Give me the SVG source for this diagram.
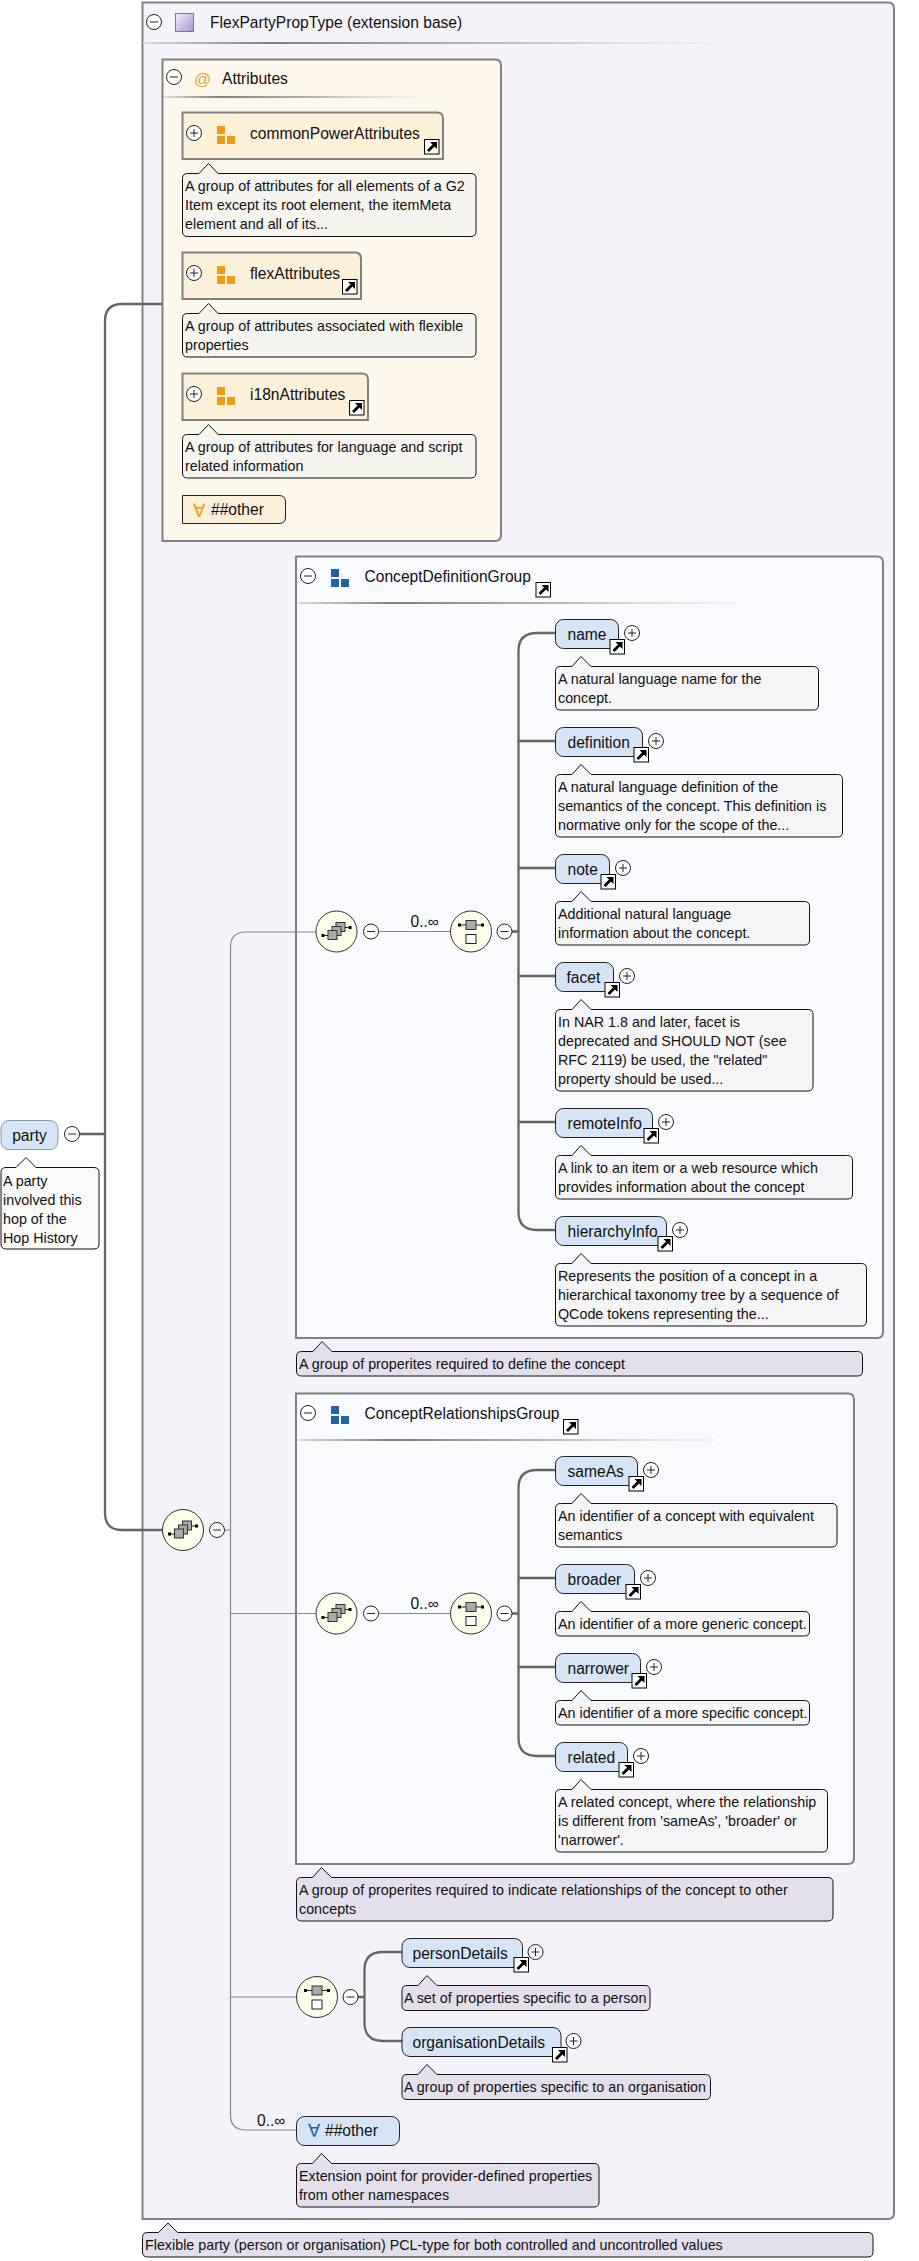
<svg xmlns="http://www.w3.org/2000/svg" xmlns:xlink="http://www.w3.org/1999/xlink" width="919" height="2261" viewBox="0 0 919 2261">
<style>
text{font-family:"Liberation Sans",Arial,sans-serif;fill:#111}
.t{font-size:15.6px}
.n{font-size:14.3px}
.box{stroke:#808080;stroke-width:2}
.el{fill:#d6e4f7;stroke:#222;stroke-width:1}
.ag{fill:#fdf0d8;stroke:#808080;stroke-width:2}
.note1{fill:#f5f5f7;stroke:#111;stroke-width:1}
.note2{fill:#f6f4ef;stroke:#111;stroke-width:1}
.note3{fill:#e3dfed;stroke:#111;stroke-width:1}
.thick{fill:none;stroke:#666;stroke-width:2.3}
.thin{fill:none;stroke:#888;stroke-width:1.2}
.fa{font-family:"DejaVu Sans ExtraLight","DejaVu Sans",sans-serif;font-size:18px}
.sq{fill:#aaa;stroke:#333;stroke-width:1}
.wh{fill:#fff;stroke:#222;stroke-width:1}
.bb{fill:#000}
.blue{fill:#1f63ab}
.or{fill:#ee9c12}
</style>
<defs>
<linearGradient id="sep" x1="0" x2="1" y1="0" y2="0"><stop offset="0" stop-color="#dcdcdc"/><stop offset=".22" stop-color="#808080"/><stop offset=".6" stop-color="#b8b8b8"/><stop offset="1" stop-color="#ececec" stop-opacity=".5"/></linearGradient>
<linearGradient id="pur" x1="0" x2="1" y1="0" y2="1"><stop offset="0" stop-color="#f0eef8"/><stop offset="1" stop-color="#a898d0"/></linearGradient>
<g id="minus"><circle r="7.5" fill="#fff" stroke="#222" stroke-width="1"/><path d="M-4 0H4" stroke="#222" stroke-width="1"/></g>
<g id="plus"><circle r="7.5" fill="#fff" stroke="#222" stroke-width="1"/><path d="M-4 0H4M0-4V4" stroke="#222" stroke-width="1"/></g>
<g id="ext"><rect x=".5" y=".5" width="14.5" height="14.5" fill="#fff" stroke="#000" stroke-width="1"/><path class="bb" d="M6 3H13V10L10.500 7.500 5 13 3 11 8.500 5.500Z"/></g>
<g id="choice"><circle r="20.5" fill="#fdfce8" stroke="#333" stroke-width="1"/><rect class="bb" x="-15" y="2.5" width="3" height="3"/><path d="M-12 4H-8.500" stroke="#222"/><rect class="bb" x="12" y="-5.500" width="3" height="3"/><path d="M8.500-4H12" stroke="#222"/><rect class="sq" x="-.5" y="-9" width="9" height="9"/><rect class="sq" x="-4.500" y="-5" width="9" height="9"/><rect class="sq" x="-8.500" y="-1" width="9" height="9"/></g>
<g id="seq"><circle r="20.500" fill="#fdfce8" stroke="#333" stroke-width="1"/><path d="M-11-6.500H11" stroke="#222"/><rect class="bb" x="-13" y="-8" width="3" height="3"/><rect class="bb" x="10" y="-8" width="3" height="3"/><rect class="sq" x="-5" y="-11" width="10" height="9"/><rect class="wh" x="-5" y="3" width="10" height="9"/></g>
<g id="attricon"><rect class="or" x="0" y="0" width="8" height="8"/><rect class="or" x="0" y="10" width="8" height="8"/><rect class="or" x="10" y="10" width="8" height="8"/></g>
<g id="grpicon"><rect class="blue" x="0" y="0" width="8" height="8"/><rect class="blue" x="0" y="10" width="8" height="8"/><rect class="blue" x="10" y="10" width="8" height="8"/></g>
</defs>

<rect width="919" height="2261" fill="#fff"/>

<g id="FlexPartyPropType">
<path class="box" fill="#f5f3fa" d="M142.500 2.500H888Q894 2.500 894 8.500V2213Q894 2219 888 2219H142.500Z"/>
<use xlink:href="#minus" href="#minus" x="154" y="22"/>
<rect x="175.500" y="13.500" width="18" height="18" fill="url(#pur)" stroke="#8070b0"/>
<text class="t" x="210" y="28">FlexPartyPropType (extension base)</text>
<rect x="143" y="42" width="572" height="2" fill="url(#sep)"/>
<path class="note3" d="M147.500 2232.500H158.500L168 2223 177.500 2232.500H868Q873 2232.500 873 2237.500V2252Q873 2257 868 2257H147.500Q142.500 2257 142.500 2252V2237.500Q142.500 2232.500 147.500 2232.500Z"/>
<text class="n" x="145" y="2250">Flexible party (person or organisation) PCL-type for both controlled and uncontrolled values</text>
</g>

<g id="Attributes">
<path class="box" fill="#fef8ec" d="M162.500 59.500H495Q501 59.500 501 65.500V535Q501 541 495 541H162.500Z"/>
<use xlink:href="#minus" href="#minus" x="174" y="77"/>
<text x="194" y="85" style="font-size:17px;fill:#eca52a">@</text>
<text class="t" x="222" y="84">Attributes</text>
<rect x="164" y="96" width="254" height="2" fill="url(#sep)"/>
</g>
<g id="ConceptDefinitionGroup">
<path class="box" fill="#f9fafe" d="M296 556.500H877Q883 556.500 883 562.500V1332Q883 1338 877 1338H296Z"/>
<use xlink:href="#minus" href="#minus" x="308" y="576"/><use xlink:href="#grpicon" href="#grpicon" x="331" y="569"/>
<text class="t" x="364.500" y="582">ConceptDefinitionGroup</text>
<use xlink:href="#ext" href="#ext" x="535.500" y="582"/>
<rect x="298" y="602" width="438" height="2" fill="url(#sep)"/>
</g>
<g id="ConceptRelationshipsGroup">
<path class="box" fill="#f9fafe" d="M296 1393.500H848Q854 1393.500 854 1399.500V1858Q854 1864 848 1864H296Z"/>
<use xlink:href="#minus" href="#minus" x="308" y="1413"/><use xlink:href="#grpicon" href="#grpicon" x="331" y="1406"/>
<text class="t" x="364.500" y="1419">ConceptRelationshipsGroup</text>
<use xlink:href="#ext" href="#ext" x="563" y="1419"/>
<rect x="298" y="1439" width="418" height="2" fill="url(#sep)"/>
</g>

<g id="connectors">
<path class="thick" d="M80 1134H105M162 304H122Q105 304 105 321V1513Q105 1530 122 1530H163"/>
<path class="thin" d="M225 1530H230.500M316 932H246Q230.500 932 230.500 947V2115Q230.500 2130 246 2130H297M230.500 1613.500H316M230.500 1997H297M378 931.500H451M378 1613.500H451"/>
<path class="thick" d="M512 931.500H518.500M555.500 633H537Q518.500 633 518.500 651V1212Q518.500 1230 537 1230H555.500M518.500 741H555.500M518.500 868H555.500M518.500 976H555.500M518.500 1122H555.500"/>
<path class="thick" d="M512 1613.500H518.500M555.500 1470H537Q518.500 1470 518.500 1488V1738Q518.500 1756 537 1756H555.500M518.500 1578H555.500M518.500 1667H555.500"/>
<path class="thick" d="M358 1997H364.500M402 1952H383Q364.500 1952 364.500 1970V2023Q364.500 2041 383 2041H402"/>
</g>

<g id="party">
<rect x="1" y="1120.500" width="57" height="29" rx="8" fill="#d6e4f7" stroke="#8a98a8"/>
<text class="t" x="29.500" y="1141" text-anchor="middle">party</text>
<use xlink:href="#minus" href="#minus" x="72" y="1134"/>
<path d="M6 1167.500H16L26 1157.500 36 1167.500H94Q99 1167.500 99 1172.500V1244Q99 1249 94 1249H6Q1 1249 1 1244V1172.500Q1 1167.500 6 1167.500Z" fill="#f9f9f9" stroke="#111"/>
<text class="n" x="3" y="1186">A party</text><text class="n" x="3" y="1205">involved this</text><text class="n" x="3" y="1224">hop of the</text><text class="n" x="3" y="1243">Hop History</text>
</g>

<g id="commonPowerAttributes">
<path class="ag" d="M182.500 112.500H437Q443 112.500 443 118.500V159H182.500Z"/>
<use xlink:href="#plus" href="#plus" x="194" y="133"/><use xlink:href="#attricon" href="#attricon" x="217" y="126"/>
<text class="t" x="250" y="139">commonPowerAttributes</text>
<use xlink:href="#ext" href="#ext" x="424" y="139"/>
<path class="note2" d="M187.500 173.500H199L208.500 163.500 218 173.500H471Q476 173.500 476 178.500V231.500Q476 236.500 471 236.500H187.500Q182.500 236.500 182.500 231.500V178.500Q182.500 173.500 187.500 173.500Z"/>
<text class="n" x="185" y="191">A group of attributes for all elements of a G2</text><text class="n" x="185" y="210">Item except its root element, the itemMeta</text><text class="n" x="185" y="229">element and all of its...</text>
</g>
<g id="flexAttributes">
<path class="ag" d="M182.500 252.500H355Q361 252.500 361 258.500V299H182.500Z"/>
<use xlink:href="#plus" href="#plus" x="194" y="273"/><use xlink:href="#attricon" href="#attricon" x="217" y="266"/>
<text class="t" x="250" y="279">flexAttributes</text>
<use xlink:href="#ext" href="#ext" x="342" y="279"/>
<path class="note2" d="M187.500 313.500H199L208.500 303.500 218 313.500H471Q476 313.500 476 318.500V352Q476 357 471 357H187.500Q182.500 357 182.500 352V318.500Q182.500 313.500 187.500 313.500Z"/>
<text class="n" x="185" y="331">A group of attributes associated with flexible</text><text class="n" x="185" y="350">properties</text>
</g>
<g id="i18nAttributes">
<path class="ag" d="M182.500 373.500H362Q368 373.500 368 379.500V420H182.500Z"/>
<use xlink:href="#plus" href="#plus" x="194" y="394"/><use xlink:href="#attricon" href="#attricon" x="217" y="387"/>
<text class="t" x="250" y="400">i18nAttributes</text>
<use xlink:href="#ext" href="#ext" x="349" y="400"/>
<path class="note2" d="M187.500 434.500H199L208.500 424.500 218 434.500H471Q476 434.500 476 439.500V473Q476 478 471 478H187.500Q182.500 478 182.500 473V439.500Q182.500 434.500 187.500 434.500Z"/>
<text class="n" x="185" y="452">A group of attributes for language and script</text><text class="n" x="185" y="471">related information</text>
</g>
<g id="anyAttr">
<path d="M182.500 495.500H279Q285.500 495.500 285.500 502V517Q285.500 523.500 279 523.500H182.500Z" fill="#fdf0d8" stroke="#222"/>
<text class="fa" x="193" y="517" style="fill:#ee9c12">∀</text>
<text class="t" x="211" y="515">##other</text>
</g>

<g id="cdgControls">
<use xlink:href="#choice" href="#choice" x="336.500" y="931.500"/><use xlink:href="#minus" href="#minus" x="371" y="931.500"/>
<text class="t" x="410.500" y="927">0..∞</text>
<use xlink:href="#seq" href="#seq" x="471" y="931.500"/><use xlink:href="#minus" href="#minus" x="504.500" y="931.500"/>
</g>
<g id="name">
<rect class="el" x="555.500" y="619.500" width="63" height="29" rx="8"/><text class="t" x="567.500" y="639.500">name</text>
<use xlink:href="#ext" href="#ext" x="609.500" y="639"/><use xlink:href="#plus" href="#plus" x="632" y="633"/>
<path class="note1" d="M560.500 666.500H572L581 656.500 591 666.500H813.500Q818.500 666.500 818.500 671.500V705Q818.500 710 813.500 710H560.500Q555.500 710 555.500 705V671.500Q555.500 666.500 560.500 666.500Z"/>
<text class="n" x="558" y="684">A natural language name for the</text><text class="n" x="558" y="703">concept.</text>
</g>
<g id="definition">
<rect class="el" x="555.500" y="727.500" width="87" height="29" rx="8"/><text class="t" x="567.500" y="747.500">definition</text>
<use xlink:href="#ext" href="#ext" x="633.500" y="747"/><use xlink:href="#plus" href="#plus" x="656" y="741"/>
<path class="note1" d="M560.500 774.500H572L581 764.500 591 774.500H837.500Q842.500 774.500 842.500 779.500V832Q842.500 837 837.500 837H560.500Q555.500 837 555.500 832V779.500Q555.500 774.500 560.500 774.500Z"/>
<text class="n" x="558" y="792">A natural language definition of the</text><text class="n" x="558" y="811">semantics of the concept. This definition is</text><text class="n" x="558" y="830">normative only for the scope of the...</text>
</g>
<g id="note">
<rect class="el" x="555.500" y="854.500" width="54" height="29" rx="8"/><text class="t" x="567.500" y="874.500">note</text>
<use xlink:href="#ext" href="#ext" x="600.500" y="874"/><use xlink:href="#plus" href="#plus" x="623" y="868"/>
<path class="note1" d="M560.500 901.500H572L581 891.500 591 901.500H804.500Q809.500 901.500 809.500 906.500V940Q809.500 945 804.500 945H560.500Q555.500 945 555.500 940V906.500Q555.500 901.500 560.500 901.500Z"/>
<text class="n" x="558" y="919">Additional natural language</text><text class="n" x="558" y="938">information about the concept.</text>
</g>
<g id="facet">
<rect class="el" x="555.500" y="962.500" width="58" height="29" rx="8"/><text class="t" x="566.500" y="982.500">facet</text>
<use xlink:href="#ext" href="#ext" x="604.500" y="982"/><use xlink:href="#plus" href="#plus" x="627" y="976"/>
<path class="note1" d="M560.500 1009.500H572L581 999.500 591 1009.500H808Q813 1009.500 813 1014.500V1086Q813 1091 808 1091H560.500Q555.500 1091 555.500 1086V1014.500Q555.500 1009.500 560.500 1009.500Z"/>
<text class="n" x="558" y="1027">In NAR 1.8 and later, facet is</text><text class="n" x="558" y="1046">deprecated and SHOULD NOT (see</text><text class="n" x="558" y="1065">RFC 2119) be used, the "related"</text><text class="n" x="558" y="1084">property should be used...</text>
</g>
<g id="remoteInfo">
<rect class="el" x="555.500" y="1108.500" width="97" height="29" rx="8"/><text class="t" x="567.500" y="1128.500">remoteInfo</text>
<use xlink:href="#ext" href="#ext" x="643.500" y="1128"/><use xlink:href="#plus" href="#plus" x="666" y="1122"/>
<path class="note1" d="M560.500 1155.500H572L581 1145.500 591 1155.500H847.500Q852.500 1155.500 852.500 1160.500V1194Q852.500 1199 847.500 1199H560.500Q555.500 1199 555.500 1194V1160.500Q555.500 1155.500 560.500 1155.500Z"/>
<text class="n" x="558" y="1173">A link to an item or a web resource which</text><text class="n" x="558" y="1192">provides information about the concept</text>
</g>
<g id="hierarchyInfo">
<rect class="el" x="555.500" y="1216.500" width="111" height="29" rx="8"/><text class="t" x="567.500" y="1236.500">hierarchyInfo</text>
<use xlink:href="#ext" href="#ext" x="657.500" y="1236"/><use xlink:href="#plus" href="#plus" x="680" y="1230"/>
<path class="note1" d="M560.500 1263.500H572L581 1253.500 591 1263.500H861.500Q866.500 1263.500 866.500 1268.500V1321Q866.500 1326 861.500 1326H560.500Q555.500 1326 555.500 1321V1268.500Q555.500 1263.500 560.500 1263.500Z"/>
<text class="n" x="558" y="1281">Represents the position of a concept in a</text><text class="n" x="558" y="1300">hierarchical taxonomy tree by a sequence of</text><text class="n" x="558" y="1319">QCode tokens representing the...</text>
</g>
<g id="cdgNote">
<path class="note3" d="M301.500 1351.500H313L322 1341.500 332 1351.500H857.500Q862.500 1351.500 862.500 1356.500V1371Q862.500 1376 857.500 1376H301.500Q296.500 1376 296.500 1371V1356.500Q296.500 1351.500 301.500 1351.500Z"/>
<text class="n" x="299" y="1369">A group of properites required to define the concept</text>
</g>

<g id="crgControls">
<use xlink:href="#choice" href="#choice" x="336.500" y="1613.500"/><use xlink:href="#minus" href="#minus" x="371" y="1613.500"/>
<text class="t" x="410.500" y="1609">0..∞</text>
<use xlink:href="#seq" href="#seq" x="471" y="1613.500"/><use xlink:href="#minus" href="#minus" x="504.500" y="1613.500"/>
</g>
<g id="sameAs">
<rect class="el" x="555.500" y="1456.500" width="82" height="29" rx="8"/><text class="t" x="567.500" y="1476.500">sameAs</text>
<use xlink:href="#ext" href="#ext" x="628.500" y="1476"/><use xlink:href="#plus" href="#plus" x="651" y="1470"/>
<path class="note1" d="M560.500 1503.500H572L581 1493.500 591 1503.500H832Q837 1503.500 837 1508.500V1542Q837 1547 832 1547H560.500Q555.500 1547 555.500 1542V1508.500Q555.500 1503.500 560.500 1503.500Z"/>
<text class="n" x="558" y="1521">An identifier of a concept with equivalent</text><text class="n" x="558" y="1540">semantics</text>
</g>
<g id="broader">
<rect class="el" x="555.500" y="1564.500" width="79" height="29" rx="8"/><text class="t" x="567.500" y="1584.500">broader</text>
<use xlink:href="#ext" href="#ext" x="625.500" y="1584"/><use xlink:href="#plus" href="#plus" x="648" y="1578"/>
<path class="note1" d="M560.500 1611.500H572L581 1601.500 591 1611.500H804.500Q809.500 1611.500 809.500 1616.500V1631Q809.500 1636 804.500 1636H560.500Q555.500 1636 555.500 1631V1616.500Q555.500 1611.500 560.500 1611.500Z"/>
<text class="n" x="558" y="1629">An identifier of a more generic concept.</text>
</g>
<g id="narrower">
<rect class="el" x="555.500" y="1653.500" width="85" height="29" rx="8"/><text class="t" x="567.500" y="1673.500">narrower</text>
<use xlink:href="#ext" href="#ext" x="631.500" y="1673"/><use xlink:href="#plus" href="#plus" x="654" y="1667"/>
<path class="note1" d="M560.500 1700.500H572L581 1690.500 591 1700.500H804.500Q809.500 1700.500 809.500 1705.500V1720Q809.500 1725 804.500 1725H560.500Q555.500 1725 555.500 1720V1705.500Q555.500 1700.500 560.500 1700.500Z"/>
<text class="n" x="558" y="1718">An identifier of a more specific concept.</text>
</g>
<g id="related">
<rect class="el" x="555.500" y="1742.500" width="72" height="29" rx="8"/><text class="t" x="567.500" y="1762.500">related</text>
<use xlink:href="#ext" href="#ext" x="618.500" y="1762"/><use xlink:href="#plus" href="#plus" x="641" y="1756"/>
<path class="note1" d="M560.500 1789.500H572L581 1779.500 591 1789.500H822.500Q827.500 1789.500 827.500 1794.500V1847Q827.500 1852 822.500 1852H560.500Q555.500 1852 555.500 1847V1794.500Q555.500 1789.500 560.500 1789.500Z"/>
<text class="n" x="558" y="1807">A related concept, where the relationship</text><text class="n" x="558" y="1826">is different from 'sameAs', 'broader' or</text><text class="n" x="558" y="1845">'narrower'.</text>
</g>
<g id="crgNote">
<path class="note3" d="M301.500 1877.500H312.500L321.500 1867.500 331.500 1877.500H828Q833 1877.500 833 1882.500V1916Q833 1921 828 1921H301.500Q296.500 1921 296.500 1916V1882.500Q296.500 1877.500 301.500 1877.500Z"/>
<text class="n" x="299" y="1895">A group of properites required to indicate relationships of the concept to other</text><text class="n" x="299" y="1914">concepts</text>
</g>

<g id="innerSequence">
<use xlink:href="#seq" href="#seq" x="317" y="1997"/><use xlink:href="#minus" href="#minus" x="350.500" y="1997"/>
</g>
<g id="personDetails">
<rect class="el" x="402" y="1938.500" width="120.500" height="29" rx="8"/><text class="t" x="412.500" y="1958.500">personDetails</text>
<use xlink:href="#ext" href="#ext" x="513.500" y="1957"/><use xlink:href="#plus" href="#plus" x="535.500" y="1952"/>
<path class="note3" d="M407 1985.500H418L427 1975.500 437 1985.500H645Q650 1985.500 650 1990.500V2005.500Q650 2010.500 645 2010.500H407Q402 2010.500 402 2005.500V1990.500Q402 1985.500 407 1985.500Z"/>
<text class="n" x="404" y="2003">A set of properties specific to a person</text>
</g>
<g id="organisationDetails">
<rect class="el" x="402" y="2027.500" width="159" height="29" rx="8"/><text class="t" x="412.500" y="2047.500">organisationDetails</text>
<use xlink:href="#ext" href="#ext" x="552" y="2047"/><use xlink:href="#plus" href="#plus" x="573.500" y="2041"/>
<path class="note3" d="M407 2074.500H418L427 2064.500 437 2074.500H705.500Q710.500 2074.500 710.500 2079.500V2094.500Q710.500 2099.500 705.500 2099.500H407Q402 2099.500 402 2094.500V2079.500Q402 2074.500 407 2074.500Z"/>
<text class="n" x="404" y="2092">A group of properties specific to an organisation</text>
</g>
<g id="anyOther">
<text class="t" x="257" y="2126">0..∞</text>
<rect class="el" x="296.500" y="2116.500" width="103" height="29" rx="8"/>
<text class="fa" x="308" y="2137" style="fill:#1f63ab">∀</text>
<text class="t" x="325" y="2136">##other</text>
<path class="note3" d="M301.500 2163.500H312.500L321.500 2153.500 331.500 2163.500H594Q599 2163.500 599 2168.500V2202Q599 2207 594 2207H301.500Q296.500 2207 296.500 2202V2168.500Q296.500 2163.500 301.500 2163.500Z"/>
<text class="n" x="299" y="2181">Extension point for provider-defined properties</text><text class="n" x="299" y="2200">from other namespaces</text>
</g>
<g id="mainChoice">
<use xlink:href="#choice" href="#choice" x="183" y="1530"/><use xlink:href="#minus" href="#minus" x="217" y="1530"/>
</g>
</svg>
